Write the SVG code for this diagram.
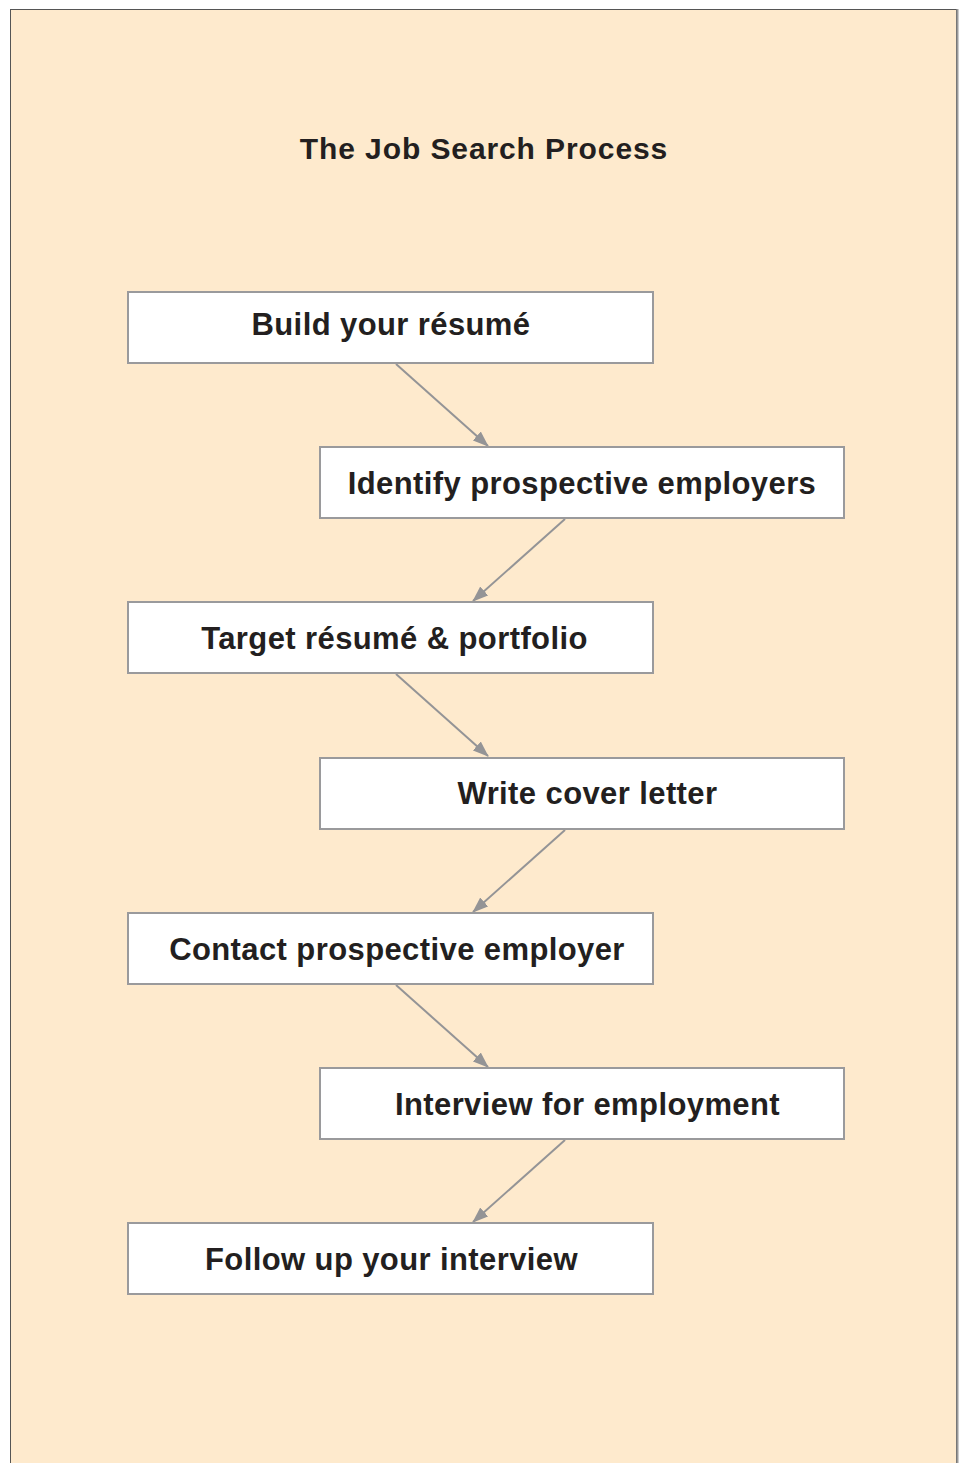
<svg xmlns="http://www.w3.org/2000/svg" width="961" height="1463" viewBox="0 0 961 1463">
<defs>
<style>
.box{fill:#ffffff;stroke:#9a9a9c;stroke-width:2}
.lbl{font-family:"Liberation Sans",Arial,Helvetica,sans-serif;font-weight:bold;font-size:31px;letter-spacing:0.4px;fill:#231f20;text-anchor:middle}
.ttl{font-family:"Liberation Sans",Arial,Helvetica,sans-serif;font-weight:bold;font-size:30px;letter-spacing:0.9px;fill:#231f20;text-anchor:middle}
.con{stroke:#949496;stroke-width:2;fill:none;marker-end:url(#ah)}
</style>
<marker id="ah" viewBox="0 0 16 12" refX="15" refY="6" markerWidth="16" markerHeight="12" markerUnits="userSpaceOnUse" orient="auto">
<path d="M0,0 L16,6 L0,12 Z" fill="#949496"/>
</marker>
</defs>
<rect x="0" y="0" width="961" height="1463" fill="#ffffff"/>
<rect id="panel" x="10.5" y="9.5" width="946" height="1460" fill="#feeacd" stroke="#555" stroke-width="1"/>
<line x1="957.5" y1="9" x2="957.5" y2="1463" stroke="#9a9a9a" stroke-width="2"/>
<text id="title" class="ttl" x="484" y="159">The Job Search Process</text>
<g id="connectors">
<line class="con" x1="396" y1="364" x2="488" y2="446"/>
<line class="con" x1="565" y1="519" x2="473" y2="601"/>
<line class="con" x1="396" y1="674" x2="488" y2="756"/>
<line class="con" x1="565" y1="830" x2="473" y2="912"/>
<line class="con" x1="396" y1="985" x2="488" y2="1067"/>
<line class="con" x1="565" y1="1140" x2="473" y2="1222"/>
</g>
<g id="n1"><rect class="box" x="128" y="292" width="525" height="71"/><text class="lbl" x="391" y="335">Build your résumé</text></g>
<g id="n2"><rect class="box" x="320" y="447" width="524" height="71"/><text class="lbl" x="582" y="494">Identify prospective employers</text></g>
<g id="n3"><rect class="box" x="128" y="602" width="525" height="71"/><text class="lbl" x="394.5" y="649">Target résumé &amp; portfolio</text></g>
<g id="n4"><rect class="box" x="320" y="758" width="524" height="71"/><text class="lbl" x="587.5" y="804">Write cover letter</text></g>
<g id="n5"><rect class="box" x="128" y="913" width="525" height="71"/><text class="lbl" x="397" y="960">Contact prospective employer</text></g>
<g id="n6"><rect class="box" x="320" y="1068" width="524" height="71"/><text class="lbl" x="587.5" y="1115">Interview for employment</text></g>
<g id="n7"><rect class="box" x="128" y="1223" width="525" height="71"/><text class="lbl" x="391.5" y="1270">Follow up your interview</text></g>
</svg>
